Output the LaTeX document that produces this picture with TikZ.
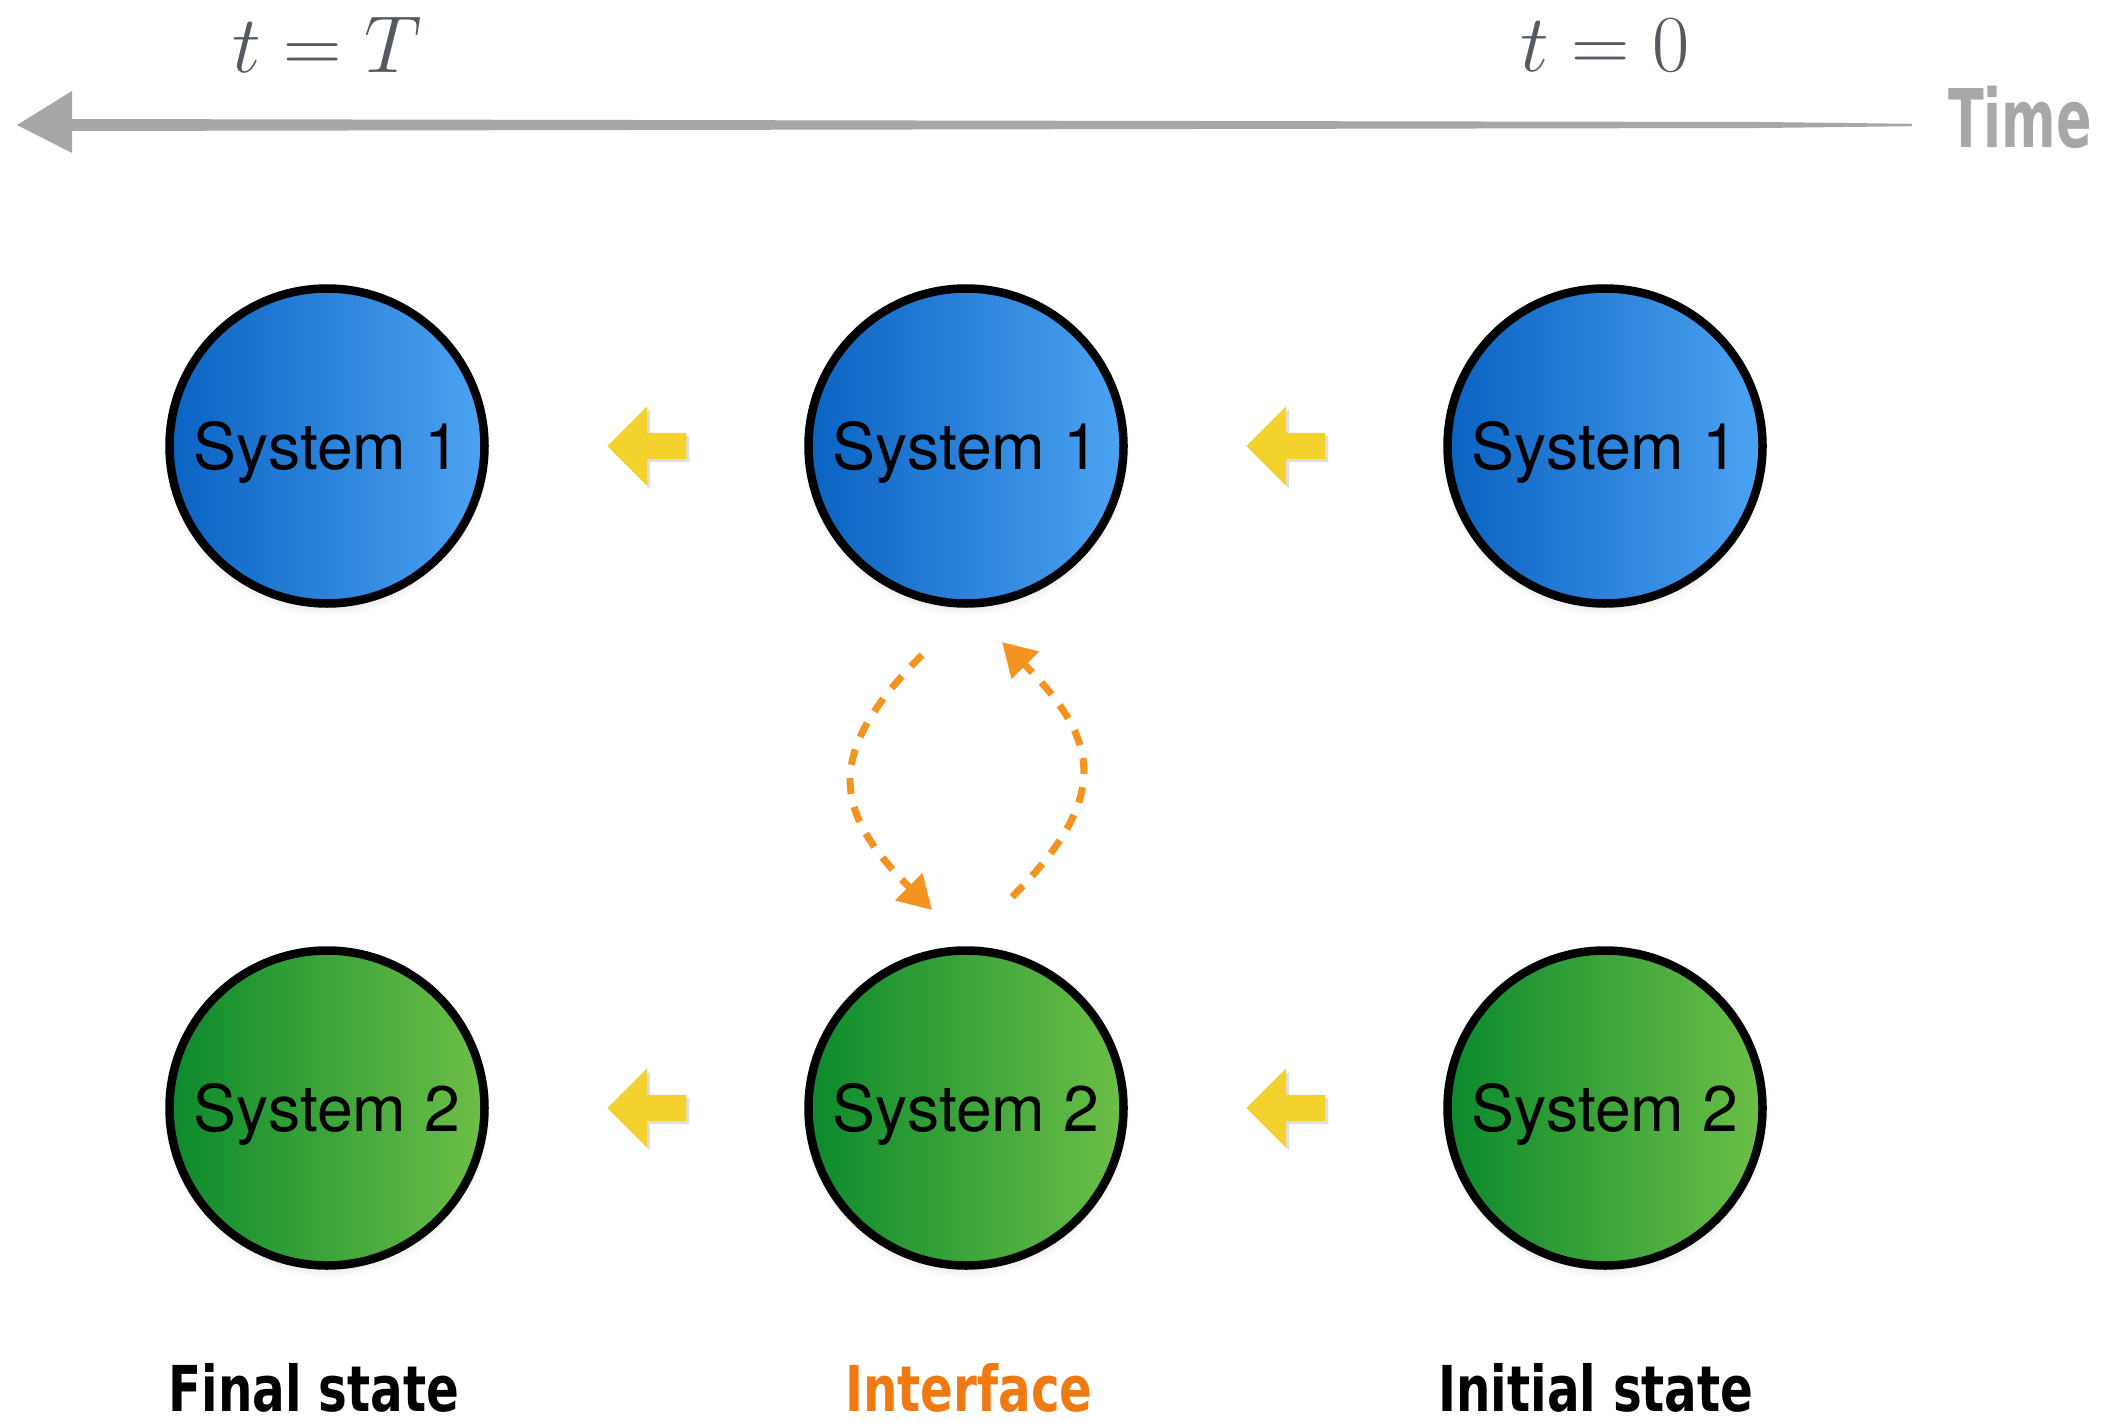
\documentclass[tikz,border=0pt]{standalone}
\usepackage[no-math]{fontspec}
\usepackage{tikz}
\usetikzlibrary{arrows.meta,shapes.arrows,shadows,calc}

\newfontfamily\sysfont{TeX Gyre Heros}
\newfontfamily\tagfont{DejaVu Sans Condensed Bold}[FakeStretch=0.85]
\newfontfamily\timefont{DejaVu Sans Condensed Bold}[FakeStretch=0.72]

\definecolor{blueL}{HTML}{0A62C2}
\definecolor{blueR}{HTML}{4DA3F2}
\definecolor{greenL}{HTML}{0C8A2D}
\definecolor{greenR}{HTML}{6DBF47}
\definecolor{passyellow}{HTML}{F4D22E}
\definecolor{swaporange}{HTML}{F39420}
\definecolor{tagorange}{HTML}{F07A12}
\definecolor{timegrey}{HTML}{A5A8A6}
\definecolor{mathgrey}{HTML}{545A60}

\tikzset{
  sys/.style={circle, draw=black, line width=0.085cm, minimum size=3.15cm,
    inner sep=0pt, text height=13.2pt, text depth=0pt,
    font=\sysfont\fontsize{18.3}{20}\selectfont,
    circular drop shadow={shadow xshift=0cm, shadow yshift=-0.06cm,
      shadow scale=1.04, opacity=0.35}},
  sysone/.style={sys, left color=blueL, right color=blueR},
  systwo/.style={sys, left color=greenL, right color=greenR},
  pass/.style={single arrow, fill=passyellow, inner xsep=0pt, inner ysep=0.125cm,
    minimum height=0.79cm, minimum width=0pt, xshift=0.07cm,
    single arrow head extend=0.265cm, single arrow head indent=0pt,
    shape border rotate=180,
    drop shadow={shadow xshift=0.03cm, shadow yshift=-0.03cm, opacity=0.25}},
  swap/.style={draw=swaporange, line width=2pt, dash pattern=on 4.5pt off 3.8pt,
    -{Triangle[length=0.33cm,width=0.37cm]}},
  tag/.style={anchor=base, inner sep=0pt, font=\tagfont\fontsize{18}{20}\selectfont},
  tmark/.style={text=mathgrey}
}

\begin{document}
\begin{tikzpicture}
  \useasboundingbox (0,0) rectangle (21.19,14.22);

  % time axis
  \coordinate (tip) at (0.17,12.97);
  \coordinate (tend) at (19.12,12.97);
  \fill[timegrey] ($(tip)+(0.5,0.06)$) -- ($(tend)+(-1.5,0.03)$) -- ($(tend)+(0,0.012)$)
    -- ($(tend)+(0,-0.012)$) -- ($(tend)+(-1.5,-0.03)$) -- ($(tip)+(0.5,-0.06)$) -- cycle;
  \fill[timegrey] (tip) -- ($(tip)+(0.55,0.34)$) -- ($(tip)+(0.55,-0.28)$) -- cycle;
  \node[text=timegrey, font=\timefont\fontsize{23}{26}\selectfont] (time) at (20.2,13.05) {Time};
  \node[tmark] (tT) at (3.27,13.77) {\scalebox{1.11}{\huge$t=T$}};
  \node[tmark] (t0) at (16.05,13.77) {\scalebox{1.11}{\huge$t=0$}};

  % systems
  \node[sysone] (s11) at (3.27,9.76) {System 1};
  \node[sysone] (s12) at (9.66,9.76) {System 1};
  \node[sysone] (s13) at (16.05,9.76) {System 1};
  \node[systwo] (s21) at (3.27,3.14) {System 2};
  \node[systwo] (s22) at (9.66,3.14) {System 2};
  \node[systwo] (s23) at (16.05,3.14) {System 2};

  % steps back in time
  \node[pass] (p11) at ($(s11)!0.5!(s12)$) {};
  \node[pass] (p12) at ($(s12)!0.5!(s13)$) {};
  \node[pass] (p21) at ($(s21)!0.5!(s22)$) {};
  \node[pass] (p22) at ($(s22)!0.5!(s23)$) {};

  % exchange at the interface
  \draw[swap] ($(s12.center)+(-0.44,-2.09)$) to[out=225,in=135,looseness=1.4]
    ($(s22.center)+(-0.34,1.98)$);
  \draw[swap] ($(s22.center)+(0.46,2.11)$) to[out=45,in=-45,looseness=1.4]
    ($(s12.center)+(0.36,-1.96)$);

  \node[tag] (lfinal) at (3.14,0.11) {Final state};
  \node[tag, text=tagorange] (linter) at (9.69,0.11) {Interface};
  \node[tag] (linit) at (15.96,0.11) {Initial state};
\end{tikzpicture}
\end{document}
